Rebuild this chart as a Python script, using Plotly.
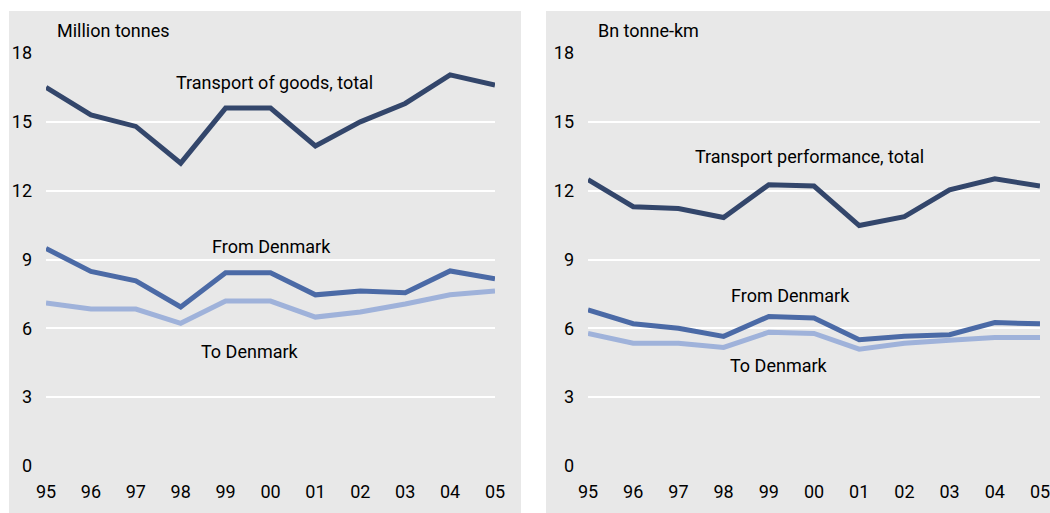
import plotly.graph_objects as go

years = ["95", "96", "97", "98", "99", "00", "01", "02", "03", "04", "05"]

# left panel: million tonnes
goods_total = [16.5, 15.3, 14.8, 13.2, 15.6, 15.6, 13.95, 15.0, 15.8, 17.05, 16.6]
goods_from_dk = [9.48, 8.48, 8.07, 6.93, 8.42, 8.42, 7.46, 7.63, 7.55, 8.5, 8.16]
goods_to_dk = [7.1, 6.84, 6.84, 6.22, 7.19, 7.19, 6.49, 6.71, 7.06, 7.46, 7.63]

# right panel: bn tonne-km
perf_total = [12.48, 11.3, 11.22, 10.83, 12.26, 12.2, 10.48, 10.87, 12.04, 12.52, 12.2]
perf_from_dk = [6.8, 6.2, 6.0, 5.65, 6.52, 6.45, 5.5, 5.65, 5.72, 6.25, 6.2]
perf_to_dk = [5.78, 5.35, 5.35, 5.17, 5.83, 5.78, 5.09, 5.35, 5.48, 5.6, 5.6]

yticks = [0, 3, 6, 9, 12, 15, 18]

c_total = "#33466b"
c_from = "#4b6aa6"
c_to = "#9fb2da"
W, H = 1050, 513
FONT = "Roboto"
FS = 18


def px(x):
    return x / W


def py(y):
    return 1 - y / H


fig = go.Figure()


def add_lines(xa, ya, series):
    for vals, col in series:
        fig.add_trace(go.Scatter(x=years, y=vals, mode="lines", xaxis=xa, yaxis=ya,
                                 line=dict(color=col, width=5), showlegend=False,
                                 hoverinfo="skip"))


add_lines("x", "y", [(goods_to_dk, c_to), (goods_from_dk, c_from), (goods_total, c_total)])
add_lines("x2", "y2", [(perf_to_dk, c_to), (perf_from_dk, c_from), (perf_total, c_total)])

ydom = [py(466), py(53)]
xaxis_common = dict(type="category", range=[0, 10], showgrid=False, zeroline=False,
                    ticks="", ticklabelstandoff=13, automargin=False,
                    tickfont=dict(family=FONT, size=FS, color="black"))
yaxis_common = dict(range=[0, 18], tickvals=yticks, showgrid=True, gridcolor="white",
                    gridwidth=2, zeroline=False, ticks="", ticklabelstandoff=13,
                    automargin=False, tickfont=dict(family=FONT, size=FS, color="black"))

fig.update_layout(
    width=W, height=H,
    margin=dict(l=0, r=0, t=0, b=0),
    paper_bgcolor="white", plot_bgcolor="#dcdcdc",
    xaxis=dict(domain=[px(46), px(495)], **xaxis_common),
    yaxis=dict(domain=ydom, **yaxis_common),
    xaxis2=dict(domain=[px(588), px(1040)], anchor="y2", **xaxis_common),
    yaxis2=dict(domain=ydom, anchor="x2", **yaxis_common),
    font=dict(family=FONT, size=FS, color="black"),
)

# outer panel backgrounds
for x0, x1 in [(9, 521), (546, 1050)]:
    fig.add_shape(type="rect", xref="paper", yref="paper", x0=px(x0), x1=px(x1),
                  y0=0, y1=py(11),
                  fillcolor="#e8e8e8", line=dict(width=0), layer="below")

labels = [
    ("x", "y", 5.1, 16.7, "Transport of goods, total"),
    ("x", "y", 5.03, 9.55, "From Denmark"),
    ("x", "y", 4.54, 5.0, "To Denmark"),
    ("x2", "y2", 4.89, 13.5, "Transport performance, total"),
    ("x2", "y2", 4.47, 7.45, "From Denmark"),
    ("x2", "y2", 4.23, 4.38, "To Denmark"),
]
for xr, yr, x, y, t in labels:
    fig.add_annotation(xref=xr, yref=yr, x=x, y=y, text=t, showarrow=False,
                       font=dict(family=FONT, size=FS, color="black"))

for x, t in [(55, "Million tonnes"), (596, "Bn tonne-km")]:
    fig.add_annotation(xref="paper", yref="paper", x=px(x), y=py(31), text=t,
                       showarrow=False, xanchor="left", yanchor="middle",
                       font=dict(family=FONT, size=FS, color="black"))

# drop the default page margin so the figure sits at the window's corner
fig.write_html("out.html", config={"displayModeBar": False},
               post_script="document.body.style.margin='0';document.body.style.overflow='hidden';")
